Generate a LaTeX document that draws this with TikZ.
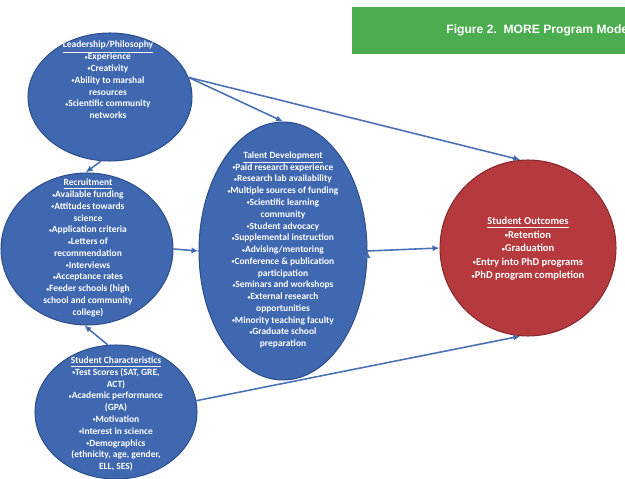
\documentclass[tikz,border=0pt]{standalone}
\usepackage{fontspec}
\usepackage{graphicx}
\usepackage{tikz}
\usetikzlibrary{shapes.geometric, arrows.meta, positioning}
\newfontfamily\calfont{Carlito}
\newfontfamily\capfont{Liberation Sans}
\newcommand{\blobfont}{\calfont\bfseries\fontsize{5.4}{6.7}\selectfont}
\newcommand{\outfont}{\calfont\bfseries\fontsize{6}{7.65}\selectfont}
\newcommand{\bul}{\raisebox{0.12ex}{\scalebox{0.6}{•}}}
\definecolor{blobblue}{HTML}{3F68B0}
\definecolor{blobedge}{HTML}{2E4F8C}
\definecolor{outred}{HTML}{B5393D}
\definecolor{outedge}{HTML}{8A2A2E}
\definecolor{linkblue}{HTML}{4A70B5}
\definecolor{bannergreen}{HTML}{4BAD4F}
\tikzset{
  blob/.style={ellipse, draw=blobedge, fill=blobblue, line width=0.6pt, inner sep=0pt},
  blobtxt/.style={text=white, font=\blobfont, align=center, inner sep=0pt},
  link/.style={-{Latex[length=4pt,width=3.6pt]}, draw=linkblue, line width=0.9pt},
}

\begin{document}
\begin{tikzpicture}[x=0.02cm, y=-0.02cm]
   \useasboundingbox (0,0) rectangle (625,479);
   \clip (0,0) rectangle (625,479);

   % title banner
   \fill[bannergreen] (352,7) rectangle (660,54);
   \node[anchor=west, text=white, font=\capfont\bfseries\fontsize{6.9}{8}\selectfont, inner sep=0pt] (caption) at (446,30) {Figure 2.\ \ MORE Program Model};

   % the five groups
   \node[blob, minimum width=3.28cm, minimum height=2.56cm] (lead) at (110,97) {};
   \node[blob, minimum width=3.44cm, minimum height=3.04cm] (rec) at (87,249) {};
   \node[blob, minimum width=3.24cm, minimum height=2.68cm] (char) at (116,412) {};
   \node[blob, minimum width=3.36cm, minimum height=5.16cm] (talent) at (283,251) {};
   \node[blob, draw=outedge, fill=outred, minimum width=3.52cm, minimum height=3.52cm] (out) at (528,248) {};

   \node[blobtxt] (leadtxt) at (108,80) {\underline{Leadership/Philosophy}\\ \bul Experience\\ \bul Creativity\\ \bul Ability to marshal\\ resources\\ \bul Scientific community\\ networks};
   \node[blobtxt] (rectxt) at (88,248) {\underline{Recruitment}\\ \bul Available funding\\ \bul Attitudes towards\\ science\\ \bul Application criteria\\ \bul Letters of\\ recommendation\\ \bul Interviews\\ \bul Acceptance rates\\ \bul Feeder schools (high\\ school and community\\ college)};
   \node[blobtxt] (chartxt) at (116,414) {\underline{Student Characteristics}\\ \bul Test Scores (SAT, GRE,\\ ACT)\\ \bul Academic performance\\ (GPA)\\ \bul Motivation\\ \bul Interest in science\\ \bul Demographics\\ (ethnicity, age, gender,\\ ELL, SES)};
   \node[blobtxt] (talenttxt) at (283,250) {\underline{Talent Development}\\ \bul Paid research experience\\ \bul Research lab availability\\ \bul Multiple sources of funding\\ \bul Scientific learning\\ community\\ \bul Student advocacy\\ \bul Supplemental instruction\\ \bul Advising/mentoring\\ \bul Conference \& publication\\ participation\\ \bul Seminars and workshops\\ \bul External research\\ opportunities\\ \bul Minority teaching faculty\\ \bul Graduate school\\ preparation};
   \node[blobtxt, font=\outfont] (outtxt) at (528,249) {\underline{Student Outcomes}\\ \bul Retention\\ \bul Graduation\\ \bul Entry into PhD programs\\ \bul PhD program completion};

   \path[link]
    (lead.14) edge (talent.north)
    (lead.14) edge (out.95)
    (lead.262) edge (rec.91)
    (rec.east) edge (talent.west)
    (char.97) edge (rec.268)
    (char.8) edge (out.265)
    (talent.east) edge (out.west);
\end{tikzpicture}
\end{document}
